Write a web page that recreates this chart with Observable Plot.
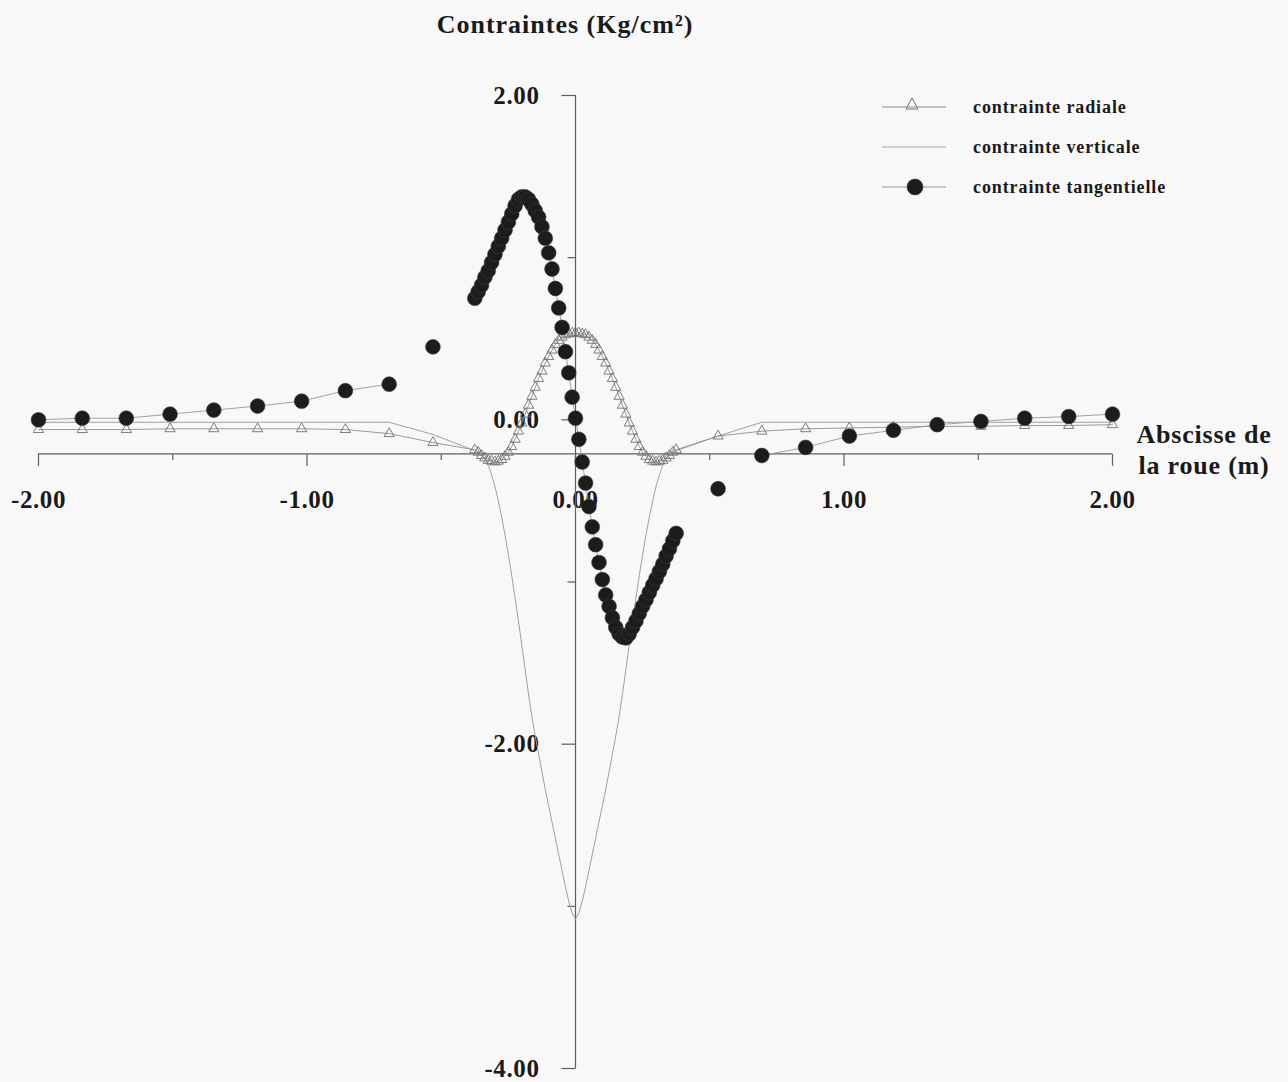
<!DOCTYPE html>
<html>
<head>
<meta charset="utf-8">
<script src="https://cdn.jsdelivr.net/npm/d3@7"></script>
<script src="https://cdn.jsdelivr.net/npm/@observablehq/plot@0.6"></script>
<style>
  html, body { margin: 0; padding: 0; background: #f8f8f8; }
  #wrap { position: relative; width: 1288px; height: 1082px; font-family: "Liberation Serif", "Times New Roman", serif; font-weight: bold; color: #1a1a1a; }
  #chart { position: absolute; left: 0; top: 0; }
  #wrap svg text { letter-spacing: 0.6px; }
  #title { position: absolute; left: 0; width: 1130px; top: 10px; text-align: center; font-size: 26px; line-height: 30px; letter-spacing: 1px; }
  #xlabel { position: absolute; left: 1124px; width: 160px; top: 419px; text-align: center; font-size: 26px; line-height: 31px; letter-spacing: 0.8px; }
  .lg { position: absolute; left: 880px; height: 24px; width: 320px; }
  .lg svg { position: absolute; left: 0; top: 0; }
  .lg span { position: absolute; left: 93px; top: 0; font-size: 18px; line-height: 24px; letter-spacing: 0.9px; white-space: nowrap; }
</style>
</head>
<body>
<div id="wrap">
  <div id="chart"></div>
  <div id="title">Contraintes (Kg/cm²)</div>
  <div id="xlabel">Abscisse de<br>la roue (m)</div>
  <div id="legend"></div>
</div>
<script>
// ---- data ----
const abscisse = [
  -2.000, -1.837, -1.673, -1.510, -1.347, -1.184, -1.020, -0.857, -0.694, -0.531,
  -0.375, -0.3625, -0.350, -0.3375, -0.325, -0.3125, -0.300, -0.2875, -0.275, -0.2625,
  -0.250, -0.2375, -0.225, -0.2125, -0.200, -0.1875, -0.175, -0.1625, -0.150, -0.1375,
  -0.125, -0.1125, -0.100, -0.0875, -0.075, -0.0625, -0.050, -0.0375, -0.025, -0.0125,
  0.000, 0.0125, 0.025, 0.0375, 0.050, 0.0625, 0.075, 0.0875, 0.100, 0.1125,
  0.125, 0.1375, 0.150, 0.1625, 0.175, 0.1875, 0.200, 0.2125, 0.225, 0.2375,
  0.250, 0.2625, 0.275, 0.2875, 0.300, 0.3125, 0.325, 0.3375, 0.350, 0.3625,
  0.375,
  0.531, 0.694, 0.857, 1.020, 1.184, 1.347, 1.510, 1.673, 1.837, 2.000
];

const radiale = [
  -0.06, -0.06, -0.06, -0.055, -0.055, -0.055, -0.055, -0.06, -0.085, -0.14,
  -0.185, -0.20, -0.22, -0.235, -0.25, -0.255, -0.26, -0.255, -0.245, -0.225,
  -0.20, -0.165, -0.12, -0.07, -0.02, 0.035, 0.09, 0.145, 0.20, 0.255,
  0.30, 0.35, 0.39, 0.43, 0.465, 0.49, 0.51, 0.525, 0.53, 0.535,
  0.535, 0.535, 0.53, 0.525, 0.51, 0.49, 0.465, 0.43, 0.39, 0.35,
  0.30, 0.255, 0.20, 0.145, 0.09, 0.035, -0.02, -0.07, -0.12, -0.165,
  -0.20, -0.225, -0.245, -0.255, -0.26, -0.255, -0.25, -0.235, -0.22, -0.20,
  -0.185,
  -0.10, -0.07, -0.055, -0.05, -0.045, -0.04, -0.04, -0.035, -0.035, -0.03
];

const verticale = [
  -0.015, -0.015, -0.015, -0.015, -0.015, -0.015, -0.015, -0.015, -0.015, -0.09,
  -0.19, -0.20, -0.215, -0.24, -0.28, -0.34, -0.41, -0.50, -0.60, -0.71,
  -0.83, -0.96, -1.10, -1.24, -1.39, -1.54, -1.69, -1.83, -1.95, -2.06,
  -2.17, -2.28, -2.38, -2.48, -2.58, -2.68, -2.78, -2.88, -2.97, -3.04,
  -3.08, -3.04, -2.97, -2.88, -2.78, -2.68, -2.58, -2.48, -2.38, -2.28,
  -2.17, -2.06, -1.95, -1.83, -1.69, -1.54, -1.39, -1.24, -1.10, -0.96,
  -0.83, -0.71, -0.60, -0.50, -0.41, -0.34, -0.28, -0.24, -0.215, -0.20,
  -0.19,
  -0.10, -0.015, -0.015, -0.015, -0.015, -0.015, -0.015, -0.015, -0.015, -0.015
];

const tangentielle = [
  0.00, 0.01, 0.01, 0.035, 0.06, 0.085, 0.115, 0.18, 0.22, 0.45,
  0.75, 0.79, 0.83, 0.88, 0.92, 0.97, 1.02, 1.07, 1.12, 1.17,
  1.22, 1.27, 1.32, 1.36, 1.375, 1.375, 1.36, 1.33, 1.29, 1.25,
  1.19, 1.12, 1.03, 0.93, 0.81, 0.69, 0.57, 0.42, 0.29, 0.14,
  0.01, -0.12, -0.26, -0.39, -0.535, -0.66, -0.77, -0.88, -0.985, -1.08,
  -1.15, -1.22, -1.28, -1.32, -1.34, -1.345, -1.32, -1.28, -1.24, -1.195,
  -1.15, -1.11, -1.065, -1.02, -0.98, -0.935, -0.89, -0.84, -0.795, -0.745,
  -0.70,
  -0.425, -0.22, -0.17, -0.10, -0.065, -0.03, -0.01, 0.01, 0.02, 0.035
];
// tangential points that the printed curve leaves unconnected
const tangentielleIsolees = [-0.531, 0.531];

const xTicksMajor = [-2, -1, 0, 1, 2];
const xTicksMinor = [-1.5, -0.5, 0.5, 1.5];
const xTickLabels = ["-2.00", "-1.00", "0.00", "1.00", "2.00"];
const yTicksMajor = [2, 0, -2, -4];
const yTicksMinor = [1, -1, -3];
const yTickLabels = ["2.00", "0.00", "-2.00", "-4.00"];
const xAxisCrossing = -0.21;   // the horizontal axis crosses the vertical one just below zero
const seriesNames = ["contrainte radiale", "contrainte verticale", "contrainte tangentielle"];

// ---- chart ----
const rows = abscisse.map((x, i) => ({x, radiale: radiale[i], verticale: verticale[i], tangentielle: tangentielle[i]}));
const tangLinked = d => tangentielleIsolees.includes(d.x) ? NaN : d.tangentielle;

const tick = (dx, dy) => ({draw(ctx) { ctx.moveTo(0, 0); ctx.lineTo(dx, dy); }});
const font = {fontFamily: "Liberation Serif, Times New Roman, serif", fontWeight: "bold", fill: "#1a1a1a"};
const axisColor = "#5e5e5e";

const chart = Plot.plot({
  width: 1288,
  height: 1082,
  marginLeft: 38,
  marginRight: 176,
  marginTop: 95,
  marginBottom: 14,
  x: {domain: [-2, 2], axis: null},
  y: {domain: [-4, 2], axis: null},
  style: {background: "transparent", overflow: "visible"},
  marks: [
    // horizontal axis
    Plot.ruleY([xAxisCrossing], {x1: -2, x2: 2, stroke: axisColor, strokeWidth: 1.2}),
    Plot.dot(xTicksMajor, {x: d => d, y: xAxisCrossing, symbol: tick(0, 12), stroke: axisColor, fill: "none", strokeWidth: 1.2}),
    Plot.dot(xTicksMinor, {x: d => d, y: xAxisCrossing, symbol: tick(0, 6), stroke: axisColor, fill: "none", strokeWidth: 1.2}),
    Plot.text(xTicksMajor, {x: d => d, y: xAxisCrossing, text: (d, i) => xTickLabels[i], dy: 46, fontSize: 25, ...font}),
    // vertical axis
    Plot.ruleX([0], {y1: -4, y2: 2, stroke: axisColor, strokeWidth: 1.2}),
    Plot.dot(yTicksMajor, {x: 0, y: d => d, symbol: tick(-14, 0), stroke: axisColor, fill: "none", strokeWidth: 1.2}),
    Plot.dot(yTicksMinor, {x: 0, y: d => d, symbol: tick(-8, 0), stroke: axisColor, fill: "none", strokeWidth: 1.2}),
    Plot.text(yTicksMajor, {x: 0, y: d => d, text: (d, i) => yTickLabels[i], dx: -36, textAnchor: "end", fontSize: 25, ...font}),
    // series
    Plot.line(rows, {x: "x", y: "verticale", stroke: "#a0a0a0", strokeWidth: 1}),
    Plot.line(rows, {x: "x", y: "radiale", stroke: "#8f8f8f", strokeWidth: 0.9}),
    Plot.dot(rows, {x: "x", y: "radiale", symbol: "triangle", r: 3.8, stroke: "#707070", fill: "none", strokeWidth: 0.9}),
    Plot.line(rows, {x: "x", y: tangLinked, stroke: "#999999", strokeWidth: 0.9}),
    Plot.dot(rows, {x: "x", y: "tangentielle", r: 7.4, fill: "#1c1c1c", stroke: "#3a3a3a", strokeWidth: 0.6})
  ]
});
document.getElementById("chart").appendChild(chart);

// ---- legend ----
const legend = document.getElementById("legend");
const legendSymbols = [
  `<line x1="2" x2="66" y1="12" y2="12" stroke="#8f8f8f" stroke-width="1"/>
   <path d="M32,3 L38,14 L26,14 Z" fill="none" stroke="#707070" stroke-width="1"/>`,
  `<line x1="2" x2="66" y1="12" y2="12" stroke="#a8a8a8" stroke-width="1"/>`,
  `<line x1="2" x2="66" y1="12" y2="12" stroke="#999999" stroke-width="1"/>
   <circle cx="35" cy="12" r="8" fill="#1c1c1c" stroke="#3a3a3a" stroke-width="0.6"/>`
];
seriesNames.forEach((name, i) => {
  const row = document.createElement("div");
  row.className = "lg";
  row.style.top = (95 + 40 * i) + "px";
  row.innerHTML = `<svg width="70" height="24">${legendSymbols[i]}</svg><span>${name}</span>`;
  legend.appendChild(row);
});
</script>
</body>
</html>
